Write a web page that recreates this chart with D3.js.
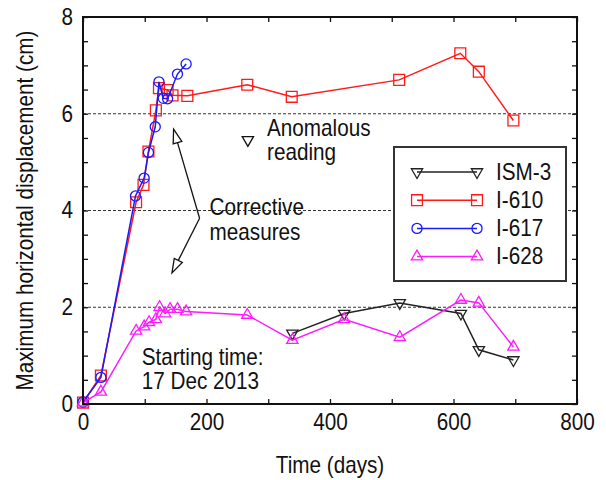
<!DOCTYPE html>
<html>
<head>
<meta charset="utf-8">
<script src="https://cdn.jsdelivr.net/npm/d3@7"></script>
<style>
  body { margin: 0; background: #fff; }
  text { font-family: "Liberation Sans", Arial, sans-serif; }
</style>
</head>
<body>
<script>
// values (days, cm)
var ism3Days = [339, 423, 513, 612, 641, 697];
var ism3Disp = [1.46, 1.87, 2.09, 1.87, 1.12, 0.91];

var i610Days = [0, 29, 86, 98, 106, 118, 123, 137, 145, 169, 266, 338, 512, 611, 641, 697];
var i610Disp = [0.03, 0.59, 4.17, 4.53, 5.22, 6.07, 6.53, 6.49, 6.38, 6.37, 6.6, 6.35, 6.7, 7.25, 6.87, 5.86];

var i617Days = [0, 29, 85, 99, 106, 117, 123, 130, 137, 153, 167];
var i617Disp = [0.04, 0.55, 4.3, 4.67, 5.2, 5.73, 6.66, 6.32, 6.31, 6.82, 7.03];

var i628Days = [0, 29, 86, 99, 107, 118, 124, 133, 141, 153, 167, 266, 339, 423, 513, 612, 641, 697];
var i628Disp = [0.03, 0.25, 1.51, 1.6, 1.69, 1.75, 2.0, 1.87, 1.96, 1.96, 1.91, 1.84, 1.32, 1.75, 1.38, 2.15, 2.09, 1.18];

var seriesNames = ["ISM-3", "I-610", "I-617", "I-628"];
var xTicks = [0, 100, 200, 300, 400, 500, 600, 700, 800];
var yTicks = [0, 0.5, 1, 1.5, 2, 2.5, 3, 3.5, 4, 4.5, 5, 5.5, 6, 6.5, 7, 7.5, 8];
var gridValues = [2, 4, 6];

var width = 606, height = 480;
var margin = {top: 17, right: 29, bottom: 76, left: 83};

var svg = d3.select("body")
    .append("svg")
    .attr("width", width)
    .attr("height", height);

var xscale = d3.scaleLinear().domain([0, 800]).range([margin.left, width - margin.right]);
var yscale = d3.scaleLinear().domain([0, 8]).range([height - margin.bottom, margin.top]);

var zip = (xs, ys) => xs.map((x, i) => ({x: x, y: ys[i]}));

var series = [
    {name: seriesNames[0], data: zip(ism3Days, ism3Disp), color: "#222", symbol: d3.symbolTriangle, size: 55, rot: 180},
    {name: seriesNames[1], data: zip(i610Days, i610Disp), color: "#ff1a1a", symbol: d3.symbolSquare, size: 118, rot: 0},
    {name: seriesNames[2], data: zip(i617Days, i617Disp), color: "#1a1aff", symbol: d3.symbolCircle, size: 80, rot: 0},
    {name: seriesNames[3], data: zip(i628Days, i628Disp), color: "#ff1aff", symbol: d3.symbolTriangle, size: 55, rot: 0}
];

// the figure's lettering is a little tall and narrow
var fs = 23, squeeze = 0.9;
function txt(parent, x, y, str, anchor) {
    return parent.append("text")
        .attr("transform", `translate(${x},${y}) scale(${squeeze},1)`)
        .attr("text-anchor", anchor || "start")
        .attr("font-size", fs)
        .attr("fill", "#111")
        .text(str);
}

// dashed grid lines
svg.append("g")
    .selectAll("line")
    .data(gridValues)
    .join("line")
    .attr("x1", xscale(0))
    .attr("x2", xscale(800))
    .attr("y1", d => yscale(d))
    .attr("y2", d => yscale(d))
    .attr("stroke", "#000")
    .attr("stroke-width", 0.8)
    .attr("stroke-dasharray", "3,2");

var line = d3.line().x(d => xscale(d.x)).y(d => yscale(d.y));

series.forEach(function(s) {
    var g = svg.append("g");
    g.append("path")
        .datum(s.data)
        .attr("fill", "none")
        .attr("stroke", s.color)
        .attr("stroke-width", 1.5)
        .attr("d", line);
    g.selectAll("path.pt")
        .data(s.data)
        .join("path")
        .attr("class", "pt")
        .attr("d", d3.symbol().type(s.symbol).size(s.size))
        .attr("transform", d => `translate(${xscale(d.x)},${yscale(d.y)}) rotate(${s.rot})`)
        .attr("fill", "none")
        .attr("stroke", s.color)
        .attr("stroke-width", 1.3);
});

// annotations
txt(svg, xscale(298), yscale(5.54), "Anomalous");
txt(svg, xscale(298), yscale(5.04), "reading");
txt(svg, xscale(205), yscale(3.9), "Corrective");
txt(svg, xscale(205), yscale(3.4), "measures");
txt(svg, xscale(95), yscale(0.81), "Starting time:");
txt(svg, xscale(95), yscale(0.31), "17 Dec 2013");

svg.append("path")
    .attr("d", d3.symbol().type(d3.symbolTriangle).size(55))
    .attr("transform", `translate(${xscale(267)},${yscale(5.46)}) rotate(180)`)
    .attr("fill", "none")
    .attr("stroke", "#111")
    .attr("stroke-width", 1.3);

// corrective measures arrows
var vertex = [188.8, 3.84];
var tips = [[146.7, 5.68], [144.1, 2.71]];
tips.forEach(function(t) {
    var x0 = xscale(vertex[0]), y0 = yscale(vertex[1]);
    var x1 = xscale(t[0]), y1 = yscale(t[1]);
    var dx = x1 - x0, dy = y1 - y0, len = Math.sqrt(dx * dx + dy * dy);
    var ux = dx / len, uy = dy / len;
    var hl = 14, hw = 4.5;
    var bx = x1 - ux * hl, by = y1 - uy * hl;
    svg.append("line")
        .attr("x1", x0).attr("y1", y0)
        .attr("x2", bx).attr("y2", by)
        .attr("stroke", "#111").attr("stroke-width", 1.3);
    svg.append("path")
        .attr("d", `M${x1},${y1}L${bx - uy * hw},${by + ux * hw}L${bx + uy * hw},${by - ux * hw}Z`)
        .attr("fill", "#fff")
        .attr("stroke", "#111")
        .attr("stroke-width", 1.3);
});

// legend
var lg = svg.append("g");
lg.append("rect")
    .attr("x", 394).attr("y", 147)
    .attr("width", 172).attr("height", 134)
    .attr("fill", "#fff")
    .attr("stroke", "#333")
    .attr("stroke-width", 2);
series.forEach(function(s, i) {
    var y = 172 + i * 28.2;
    lg.append("line")
        .attr("x1", 417).attr("x2", 477)
        .attr("y1", y).attr("y2", y)
        .attr("stroke", s.color).attr("stroke-width", 1.5);
    [417, 477].forEach(function(x) {
        lg.append("path")
            .attr("d", d3.symbol().type(s.symbol).size(s.size))
            .attr("transform", `translate(${x},${y}) rotate(${s.rot})`)
            .attr("fill", "none")
            .attr("stroke", s.color)
            .attr("stroke-width", 1.3);
    });
    txt(lg, 496, y + 7.5, s.name);
});

// axes: ticks point inward on all four sides
var axisBottomG = svg.append("g")
    .attr("transform", `translate(0,${yscale(0)})`)
    .call(d3.axisBottom(xscale).tickValues(xTicks).tickSize(-5).tickSizeOuter(0)
        .tickPadding(10).tickFormat(d => d % 200 === 0 ? d : ""));
var axisLeftG = svg.append("g")
    .attr("transform", `translate(${xscale(0)},0)`)
    .call(d3.axisLeft(yscale).tickValues(yTicks).tickSize(-5).tickSizeOuter(0)
        .tickPadding(11).tickFormat(d => d % 2 === 0 ? d : ""));
var axisTopG = svg.append("g")
    .attr("transform", `translate(0,${yscale(8)})`)
    .call(d3.axisTop(xscale).tickValues(xTicks).tickSize(-5).tickSizeOuter(0).tickFormat(""));
var axisRightG = svg.append("g")
    .attr("transform", `translate(${xscale(800)},0)`)
    .call(d3.axisRight(yscale).tickValues(yTicks).tickSize(-5).tickSizeOuter(0).tickFormat(""));

[axisBottomG, axisLeftG, axisTopG, axisRightG].forEach(function(g) {
    g.select(".domain").remove();
    g.selectAll(".tick line").attr("stroke", "#111").attr("stroke-width", 1.3);
    g.selectAll("text")
        .attr("font-size", fs)
        .attr("font-family", "'Liberation Sans', Arial, sans-serif")
        .attr("fill", "#111")
        .attr("transform", `scale(${squeeze},1)`);
});

svg.append("rect")
    .attr("x", xscale(0)).attr("y", yscale(8))
    .attr("width", xscale(800) - xscale(0))
    .attr("height", yscale(0) - yscale(8))
    .attr("fill", "none")
    .attr("stroke", "#111")
    .attr("stroke-width", 2);

// axis titles
txt(svg, (xscale(0) + xscale(800)) / 2, 473, "Time (days)", "middle");

svg.append("text")
    .attr("transform", `translate(33,${(yscale(0) + yscale(8)) / 2}) rotate(-90) scale(${squeeze},1)`)
    .attr("text-anchor", "middle")
    .attr("font-size", fs)
    .attr("fill", "#111")
    .text("Maximum horizontal displacement (cm)");
</script>
</body>
</html>
